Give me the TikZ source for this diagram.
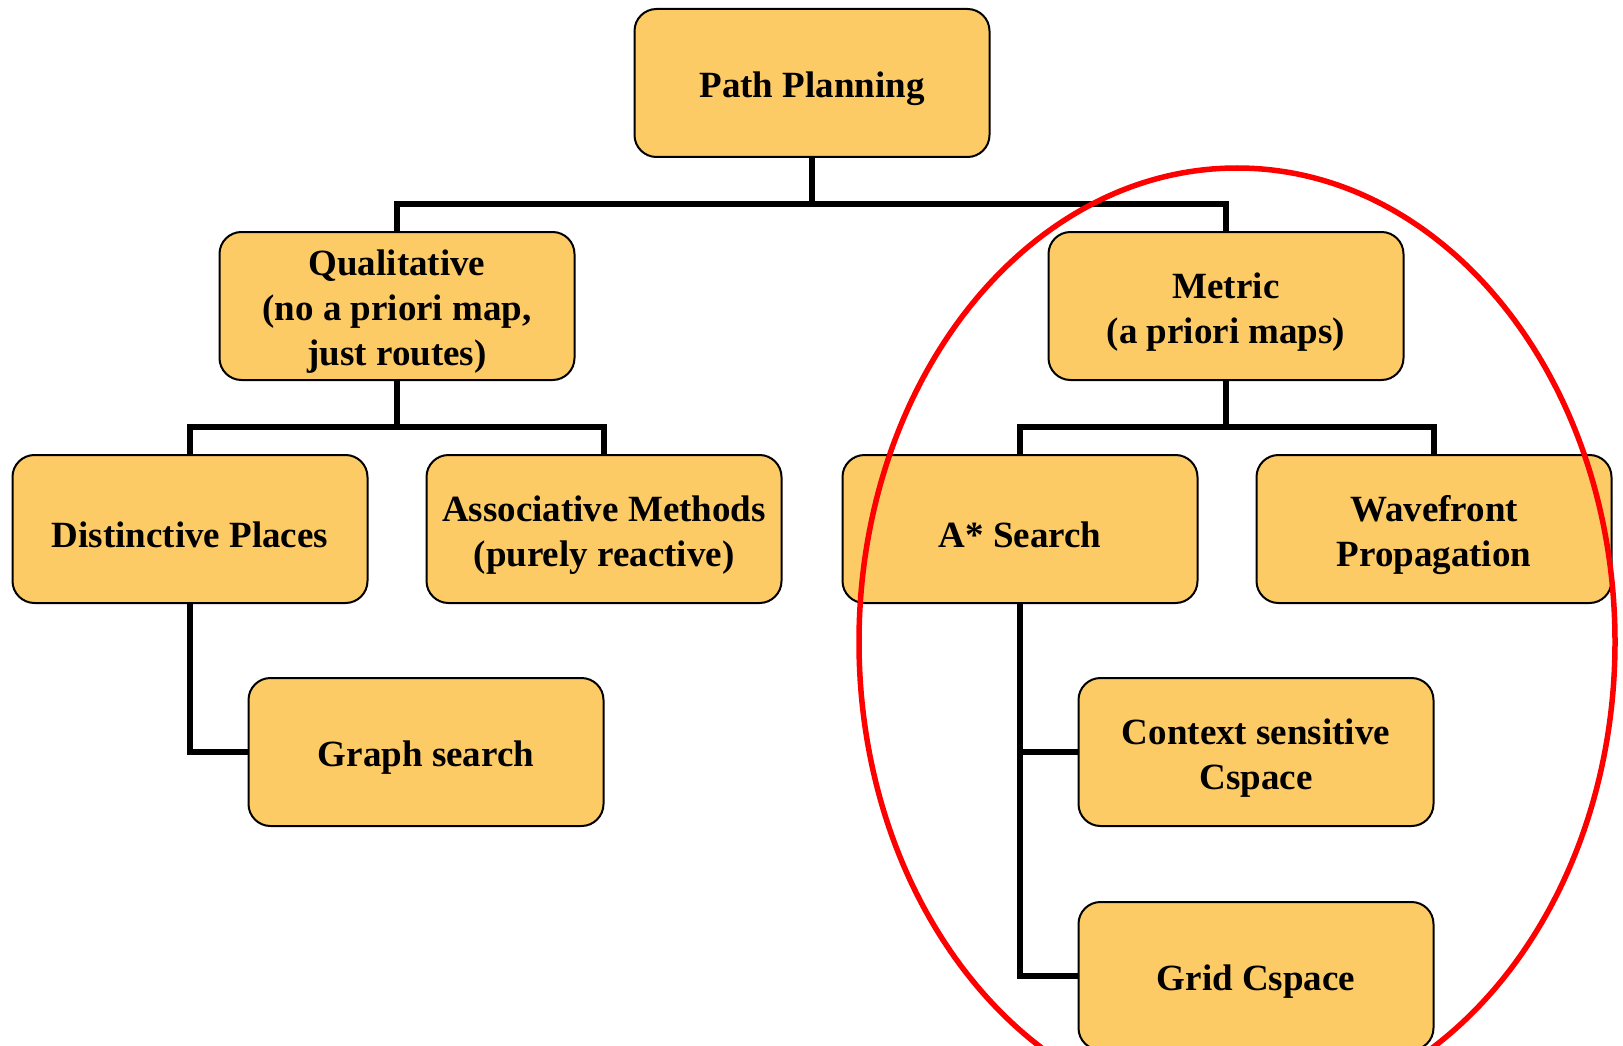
\documentclass[tikz,border=0pt]{standalone}
\usepackage{fontspec}
\setmainfont{Liberation Serif}
\definecolor{boxfill}{RGB}{253,203,102}
\definecolor{ringred}{RGB}{255,0,0}
\begin{document}
\begin{tikzpicture}[x=1pt,y=-1pt,
  box/.style={draw=black, line width=2pt, fill=boxfill, rounded corners=22pt,
    minimum width=355pt, minimum height=148pt, outer sep=0pt, inner sep=0pt},
  txt/.style={align=center, inner sep=0pt, yshift=-6pt,
    font=\fontsize{37}{45}\selectfont\bfseries},
  link/.style={draw=black, line width=6pt, line join=miter},
  ring/.style={draw=ringred, line width=5.5pt}]
\useasboundingbox (0,0) rectangle (1623,1046);
\node[box, label={[txt]center:Path Planning}] (pp) at (812,83) {};
\node[box, label={[txt]center:Qualitative\\(no a priori map,\\just routes)}] (qual) at (397,306) {};
\node[box, label={[txt]center:Metric\\(a priori maps)}] (met) at (1226,306) {};
\node[box, label={[txt]center:Distinctive Places}] (dist) at (190,529) {};
\node[box, label={[txt]center:Associative Methods\\(purely reactive)}] (assoc) at (604,529) {};
\node[box, label={[txt]center:A* Search}] (astar) at (1020,529) {};
\node[box, label={[txt]center:Wavefront\\Propagation}] (wave) at (1434,529) {};
\node[box, label={[txt]center:Graph search}] (graph) at (426,752) {};
\node[box, label={[txt]center:Context sensitive\\Cspace}] (ctx) at (1256,752) {};
\node[box, label={[txt]center:Grid Cspace}] (grid) at (1256,976) {};
\coordinate (b1) at (812,204);
\coordinate (b2) at (397,427);
\coordinate (b3) at (1226,427);
\draw[link] (pp.south) -- (b1);
\draw[link] (qual.north) |- (b1) -| (met.north);
\draw[link] (qual.south) -- (b2);
\draw[link] (dist.north) |- (b2) -| (assoc.north);
\draw[link] (met.south) -- (b3);
\draw[link] (astar.north) |- (b3) -| (wave.north);
\draw[link] (dist.south) |- (graph.west);
\draw[link] (astar.south) |- (grid.west);
\draw[link] (astar.south |- ctx.west) -- (ctx.west);
\draw[ring] (1237,642) ellipse [x radius=378, y radius=474];
\end{tikzpicture}
\end{document}
